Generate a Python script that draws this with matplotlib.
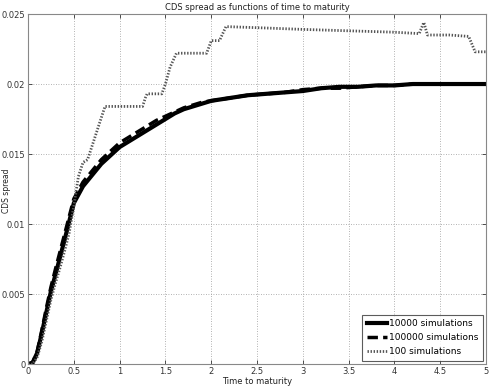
import matplotlib
matplotlib.use("Agg")
import matplotlib.pyplot as plt

# maturities (years) and CDS spreads
x_10000 = [0, 0.05, 0.1, 0.15, 0.2, 0.25, 0.3, 0.4, 0.5, 0.6, 0.7, 0.8, 0.9, 1.0,
           1.1, 1.2, 1.3, 1.4, 1.5, 1.6, 1.7, 1.8, 1.9, 2.0, 2.2, 2.4, 2.6, 2.8,
           3.0, 3.2, 3.4, 3.6, 3.8, 4.0, 4.2, 4.4, 4.6, 4.8, 5.0]
y_10000 = [0, 0.0001, 0.0008, 0.0022, 0.0037, 0.0052, 0.0064, 0.0089, 0.0115,
           0.0127, 0.0135, 0.0143, 0.0149, 0.0155, 0.0159, 0.0163, 0.0167,
           0.0171, 0.0175, 0.0179, 0.0182, 0.0184, 0.0186, 0.0188, 0.0190,
           0.0192, 0.0193, 0.0194, 0.0195, 0.0197, 0.0198, 0.0198, 0.0199,
           0.0199, 0.0200, 0.0200, 0.0200, 0.0200, 0.0200]

x_100000 = [0, 0.05, 0.1, 0.15, 0.2, 0.25, 0.3, 0.4, 0.5, 0.6, 0.7, 0.8, 0.9,
            1.0, 1.1, 1.2, 1.3, 1.4, 1.5, 1.6, 1.7, 1.8, 1.9, 2.0, 2.2, 2.4,
            2.6, 2.8, 3.0, 3.2, 3.4, 3.6, 3.8, 4.0, 4.2, 4.4, 4.6, 4.8, 5.0]
y_100000 = [0, 0.0001, 0.0009, 0.0024, 0.0040, 0.0055, 0.0068, 0.0093, 0.0118,
            0.0130, 0.0138, 0.0146, 0.0152, 0.0158, 0.0162, 0.0166, 0.0170,
            0.0174, 0.0177, 0.0180, 0.0183, 0.0185, 0.0187, 0.0188, 0.0190,
            0.0192, 0.0193, 0.0194, 0.0196, 0.0197, 0.0197, 0.0198, 0.0199,
            0.0199, 0.0200, 0.0200, 0.0200, 0.0200, 0.0200]

x_100 = [0, 0.05, 0.1, 0.15, 0.2, 0.25, 0.3, 0.35, 0.4, 0.45, 0.5, 0.55, 0.6,
         0.65, 0.84, 1.25, 1.28, 1.30, 1.46, 1.5, 1.55, 1.62, 1.95,
         2.0, 2.09, 2.16, 2.6, 3.0, 3.5, 4.0, 4.27, 4.32, 4.36, 4.6, 4.81,
         4.88, 5.0]
y_100 = [0, 0, 0.0005, 0.0016, 0.0031, 0.0046, 0.0058, 0.0069, 0.0081, 0.0094,
         0.0113, 0.0134, 0.0144, 0.0146, 0.0184, 0.0184,
         0.0190, 0.0193, 0.0193, 0.0200, 0.0212, 0.0222, 0.0222, 0.0231,
         0.0231, 0.0241, 0.0240, 0.0239, 0.0238, 0.0237, 0.0236, 0.0244,
         0.0235, 0.0235, 0.0234, 0.0223, 0.0223]

fig = plt.figure(figsize=(4.92, 3.89), dpi=100)
ax = fig.add_axes([0.057, 0.064, 0.931, 0.9])

ax.plot(x_10000, y_10000, color='black', lw=3.0, label='10000 simulations')
ax.plot(x_100000, y_100000, color='black', lw=2.5, linestyle=(0, (3, 1.5)),
        label='100000 simulations')
ax.plot(x_100, y_100, color='#555555', lw=2.0, linestyle=(0, (0.5, 0.6)),
        label='100 simulations')

ax.set_xlim(0, 5)
ax.set_ylim(0, 0.025)
ax.set_xticks([0, 0.5, 1, 1.5, 2, 2.5, 3, 3.5, 4, 4.5, 5])
ax.set_xticklabels(['0', '0.5', '1', '1.5', '2', '2.5', '3', '3.5', '4', '4.5', '5'])
ax.set_yticks([0, 0.005, 0.01, 0.015, 0.02, 0.025])
ax.set_yticklabels(['0', '0.005', '0.01', '0.015', '0.02', '0.025'])
ax.tick_params(direction='in', labelsize=6, length=3, width=0.6,
               colors='#333333', top=True, right=True, pad=2)
ax.grid(True, linestyle=(0, (1, 2)), color='#999999', lw=0.6)
for s in ax.spines.values():
    s.set_color('#888888')
    s.set_linewidth(0.8)

ax.set_title('CDS spread as functions of time to maturity', fontsize=6, pad=3,
             color='#222222')
ax.set_xlabel('Time to maturity', fontsize=6, labelpad=1, color='#222222')
# y label sits in the tick-label column, between 0.01 and 0.015
fig.text(0.013, 0.51, 'CDS spread', fontsize=5.5, rotation=90,
         ha='center', va='center', color='#222222')

leg = ax.legend(loc='lower right', frameon=True, fancybox=False,
                handlelength=2.2, handletextpad=0.2, borderpad=0.55,
                labelspacing=0.55, borderaxespad=0.3,
                prop={'family': 'DejaVu Sans', 'size': 6.5})
leg.get_frame().set_edgecolor('#333333')
leg.get_frame().set_linewidth(0.8)

fig.savefig('out.png', dpi=100)
